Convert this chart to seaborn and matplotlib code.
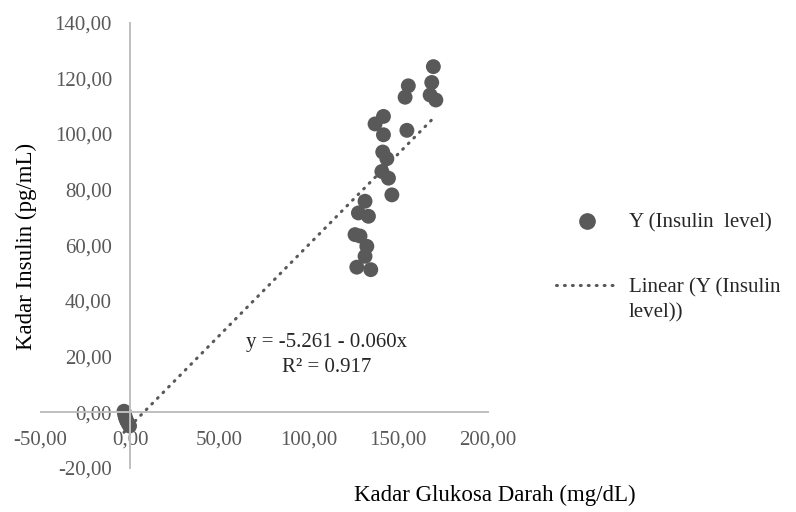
import numpy as np
import pandas as pd
import matplotlib
matplotlib.use("Agg")
import matplotlib.pyplot as plt
from matplotlib.lines import Line2D
from matplotlib.ticker import FuncFormatter
import seaborn as sns

# data
glukosa = [-3.4, -3.0, -2.6, -2.0, -1.2, -0.3,
           169.6, 168.7, 167.8, 171.0, 155.6, 153.8, 154.8,
           141.7, 137.0, 141.7, 141.3, 143.6, 140.8, 144.5, 146.4,
           131.4, 127.7, 133.3, 125.8, 128.6, 132.4, 131.4, 126.8, 134.6]
insulin = [0.3, -1.0, -2.0, -3.0, -4.0, -5.0,
           124.2, 118.5, 114.0, 112.2, 117.3, 113.2, 101.3,
           106.3, 103.6, 99.7, 93.5, 91.1, 86.5, 84.1, 78.1,
           75.8, 71.6, 70.4, 63.8, 63.3, 59.6, 56.0, 52.1, 51.2]
x_ticks = [-50, 0, 50, 100, 150, 200]
y_ticks = [-20, 0, 20, 40, 60, 80, 100, 120, 140]

df = pd.DataFrame({"x": glukosa, "y": insulin})

sns.set_style("white")
plt.rcParams["font.family"] = ["Liberation Serif", "DejaVu Serif"]

grey = "#595959"
axis_grey = "#bfbfbf"
dots = (0, (0.3, 2.3))

fig = plt.figure(figsize=(7.96, 5.12), dpi=100)
ax = fig.add_axes([0.0511, 0.0865, 0.5616, 0.8692])

sns.scatterplot(data=df, x="x", y="y", ax=ax, color=grey, s=115,
                edgecolor="none", legend=False)
sns.regplot(data=df, x="x", y="y", ax=ax, scatter=False, ci=None,
            line_kws=dict(color=grey, lw=2.2, linestyle=dots,
                          dash_capstyle="round"))

ax.set_xlim(-50, 200)
ax.set_ylim(-20, 140)
ax.set_xticks(x_ticks)
ax.set_yticks(y_ticks)
fmt = FuncFormatter(lambda v, p: f"{v:.2f}".replace(".", ","))
ax.xaxis.set_major_formatter(fmt)
ax.yaxis.set_major_formatter(fmt)

for s in ["top", "right"]:
    ax.spines[s].set_visible(False)
for s in ["left", "bottom"]:
    ax.spines[s].set_position(("data", 0))
    ax.spines[s].set_color(axis_grey)
    ax.spines[s].set_linewidth(1.4)
ax.tick_params(axis="both", direction="out", length=5, width=1.4,
               color=axis_grey, labelcolor=grey, labelsize=15, pad=8)

ax.set_xlabel("Kadar Glukosa Darah (mg/dL)", fontsize=16.5, color="black")
ax.set_ylabel("Kadar Insulin (pg/mL)", fontsize=16.5, color="black")
ax.xaxis.set_label_coords(1.016, -0.063)
ax.xaxis.label.set_va("center")
ax.yaxis.set_label_coords(-0.031, 0.498)
ax.yaxis.label.set_va("center")

# trendline equation as shown in the reference
ax.text(0.64, 0.254, "y = -5.261 - 0.060x\nR² = 0.917", transform=ax.transAxes,
        ha="center", va="center", fontsize=15, linespacing=1.45)

handles = [Line2D([], [], marker="o", color=grey, linestyle="none", markersize=11),
           Line2D([], [], color=grey, lw=2.2, linestyle=dots,
                  dash_capstyle="round")]
labels = ["Y (Insulin  level)", "Linear (Y (Insulin"]
leg = fig.legend(handles, labels, loc="upper left", bbox_to_anchor=(0.675, 0.62),
                 frameon=False, fontsize=15, handlelength=3.0, handletextpad=0.5,
                 labelspacing=2.15)

# second line of the wrapped legend label, under the first one
fig.canvas.draw()
bb = leg.get_texts()[1].get_window_extent().transformed(fig.transFigure.inverted())
fig.text(bb.x0, bb.y0 - 0.012, "level))", ha="left", va="top", fontsize=15)

fig.savefig("out.png", dpi=100)
